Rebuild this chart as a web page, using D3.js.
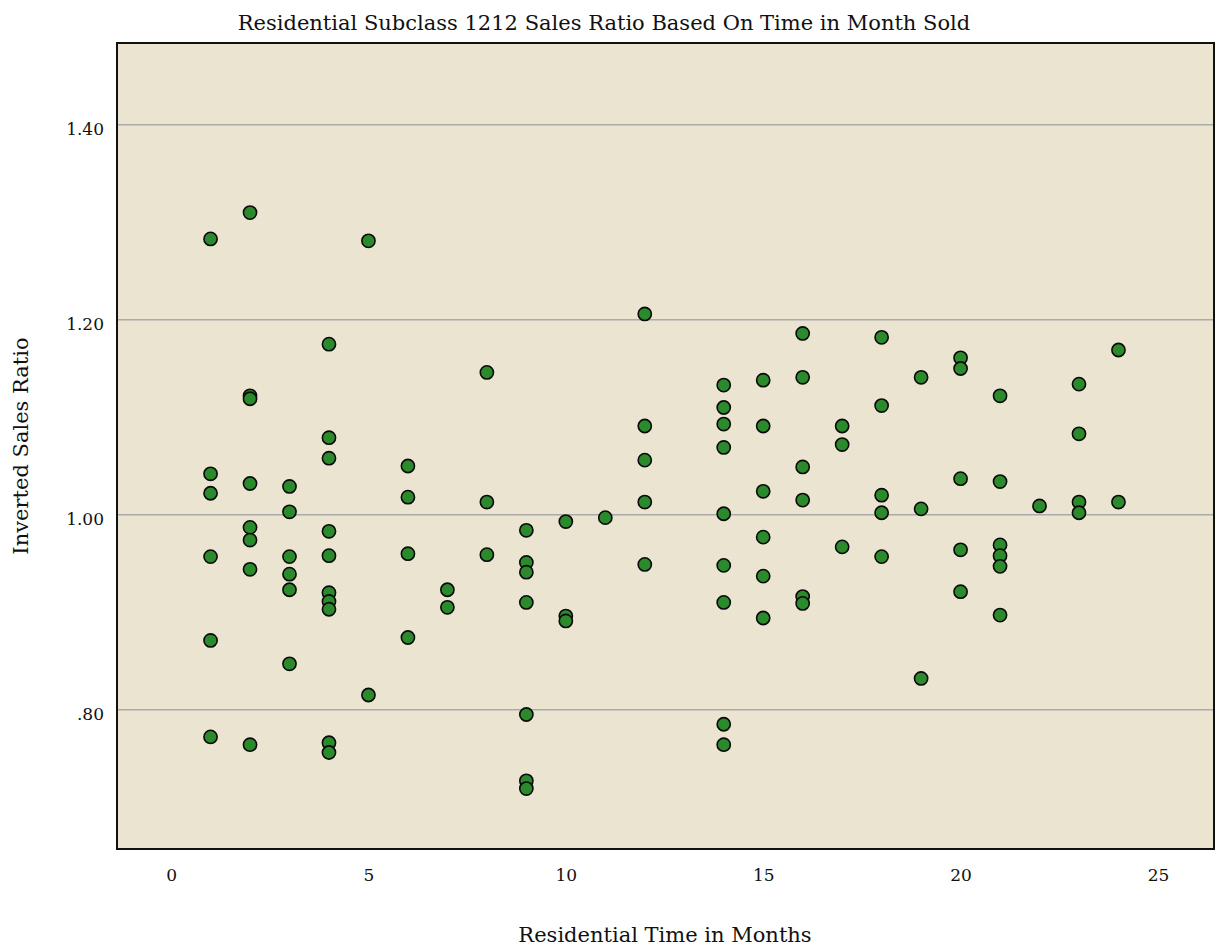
<!DOCTYPE html>
<html>
<head>
<meta charset="utf-8">
<script src="https://cdn.jsdelivr.net/npm/d3@7"></script>
<style>
  body { margin: 0; background: #fff; }
  text { font-family: 'DejaVu Serif', serif; fill: #111; }
</style>
</head>
<body>
<div id="app"></div>
<script>
// months sold (x) and inverted sales ratio (y)
const months = [
  1, 1, 1, 1, 1, 1,
  2, 2, 2, 2, 2, 2, 2, 2,
  3, 3, 3, 3, 3, 3,
  4, 4, 4, 4, 4, 4, 4, 4, 4, 4,
  5, 5,
  6, 6, 6, 6,
  7, 7,
  8, 8, 8,
  9, 9, 9, 9, 9, 9, 9,
  10, 10, 10,
  11,
  12, 12, 12, 12, 12,
  14, 14, 14, 14, 14, 14, 14, 14, 14,
  15, 15, 15, 15, 15, 15,
  16, 16, 16, 16, 16, 16,
  17, 17, 17,
  18, 18, 18, 18, 18,
  19, 19, 19,
  20, 20, 20, 20, 20,
  21, 21, 21, 21, 21, 21,
  22,
  23, 23, 23, 23,
  24, 24,
];
const ratios = [
  1.283, 1.042, 1.022, 0.957, 0.871, 0.772,
  1.310, 1.122, 1.119, 1.032, 0.987, 0.974, 0.944, 0.764,
  1.029, 1.003, 0.957, 0.939, 0.923, 0.847,
  1.175, 1.079, 1.058, 0.983, 0.958, 0.920, 0.911, 0.903, 0.766, 0.756,
  1.281, 0.815,
  1.050, 1.018, 0.960, 0.874,
  0.923, 0.905,
  1.146, 1.013, 0.959,
  0.984, 0.951, 0.941, 0.910, 0.795, 0.727, 0.719,
  0.993, 0.896, 0.891,
  0.997,
  1.206, 1.091, 1.056, 1.013, 0.949,
  1.133, 1.110, 1.093, 1.069, 1.001, 0.948, 0.910, 0.785, 0.764,
  1.138, 1.091, 1.024, 0.977, 0.937, 0.894,
  1.186, 1.141, 1.049, 1.015, 0.916, 0.909,
  1.091, 1.072, 0.967,
  1.182, 1.112, 1.020, 1.002, 0.957,
  1.141, 1.006, 0.832,
  1.161, 1.150, 1.037, 0.964, 0.921,
  1.122, 1.034, 0.969, 0.958, 0.947, 0.897,
  1.009,
  1.134, 1.083, 1.013, 1.002,
  1.169, 1.013,
];
const xTicks = [0, 5, 10, 15, 20, 25];
const yTicks = [0.8, 1.0, 1.2, 1.4];
const yTickLabels = ['.80', '1.00', '1.20', '1.40'];

const width = 1216;
const height = 948;
const plot = { left: 117, top: 43, right: 1214, bottom: 849 };

const svg = d3.select('#app').append('svg')
  .attr('width', width)
  .attr('height', height);

const xScale = d3.scaleLinear()
  .domain([-1.37, 26.42])
  .range([plot.left, plot.right]);

const yScale = d3.scaleLinear()
  .domain([0.657, 1.484])
  .range([plot.bottom, plot.top]);

// plot background
svg.append('rect')
  .attr('x', plot.left)
  .attr('y', plot.top)
  .attr('width', plot.right - plot.left)
  .attr('height', plot.bottom - plot.top)
  .attr('fill', '#ebe4d1');

// horizontal gridlines
svg.append('g')
  .selectAll('line')
  .data(yTicks)
  .enter()
  .append('line')
  .attr('x1', plot.left)
  .attr('x2', plot.right)
  .attr('y1', d => yScale(d))
  .attr('y2', d => yScale(d))
  .attr('stroke', '#aaaaaa')
  .attr('stroke-width', 1.5);

// axes, labels only (no tick marks, no domain line)
const yAxis = d3.axisLeft(yScale)
  .tickValues(yTicks)
  .tickFormat((d, i) => yTickLabels[i])
  .tickSize(0)
  .tickPadding(13);
const xAxis = d3.axisBottom(xScale)
  .tickValues(xTicks)
  .tickFormat(d3.format('d'))
  .tickSize(0)
  .tickPadding(20);

const yAxisGroup = svg.append('g')
  .attr('transform', `translate(${plot.left}, 0)`)
  .call(yAxis);
const xAxisGroup = svg.append('g')
  .attr('transform', `translate(0, ${plot.bottom})`)
  .call(xAxis);

[yAxisGroup, xAxisGroup].forEach(g => {
  g.select('.domain').remove();
  g.selectAll('text')
    .attr('font-family', "'DejaVu Serif', serif")
    .attr('font-size', 17)
    .attr('fill', '#111');
});
// labels sit a little below their gridline
yAxisGroup.selectAll('text').attr('dy', '0.56em');

// points
svg.append('g')
  .selectAll('circle')
  .data(months)
  .enter()
  .append('circle')
  .attr('cx', d => xScale(d))
  .attr('cy', (d, i) => yScale(ratios[i]))
  .attr('r', 6.6)
  .attr('fill', '#2b8a2b')
  .attr('stroke', '#0a0a0a')
  .attr('stroke-width', 1.6);

// plot frame
svg.append('rect')
  .attr('x', plot.left)
  .attr('y', plot.top)
  .attr('width', plot.right - plot.left)
  .attr('height', plot.bottom - plot.top)
  .attr('fill', 'none')
  .attr('stroke', '#111')
  .attr('stroke-width', 2);

// title and axis titles
svg.append('text')
  .attr('x', 604)
  .attr('y', 30)
  .attr('text-anchor', 'middle')
  .attr('font-size', 21)
  .text('Residential Subclass 1212 Sales Ratio Based On Time in Month Sold');

svg.append('text')
  .attr('x', 665)
  .attr('y', 942)
  .attr('text-anchor', 'middle')
  .attr('font-size', 21)
  .text('Residential Time in Months');

svg.append('text')
  .attr('transform', `translate(28, ${(plot.top + plot.bottom) / 2}) rotate(-90)`)
  .attr('text-anchor', 'middle')
  .attr('font-size', 21)
  .text('Inverted Sales Ratio');
</script>
</body>
</html>
